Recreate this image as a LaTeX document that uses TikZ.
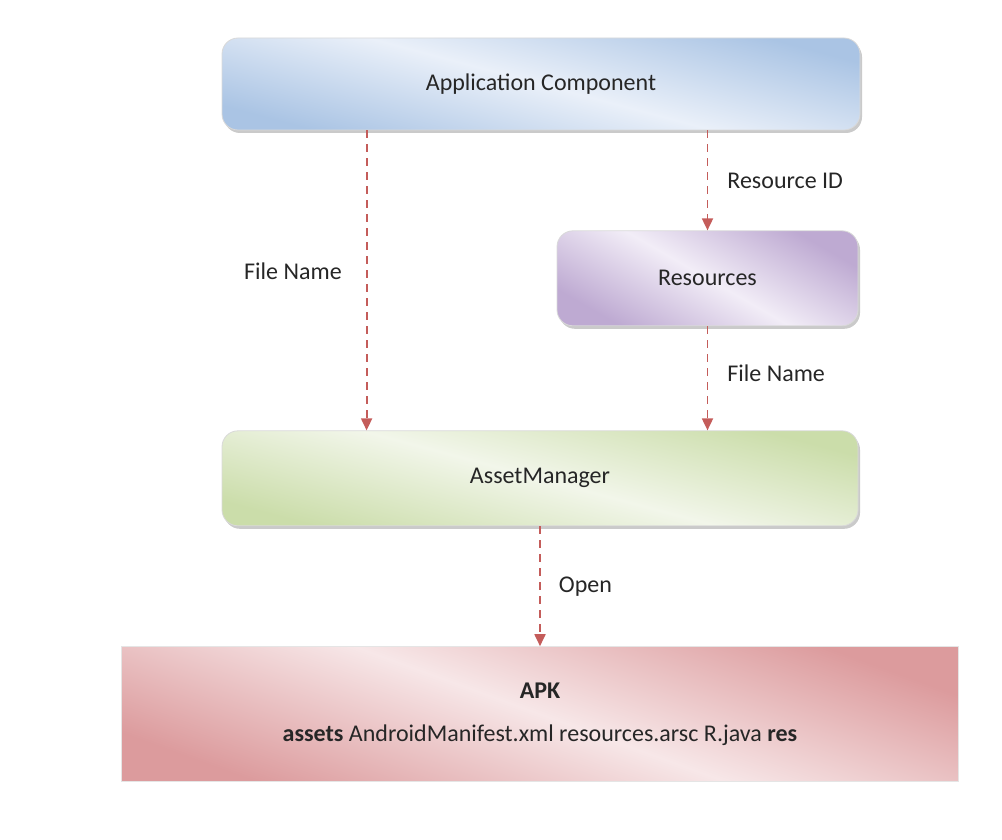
\documentclass[tikz,border=0pt]{standalone}
\usepackage{fontspec}
\setmainfont{Carlito}
\usetikzlibrary{positioning,shadows,arrows.meta}

\definecolor{arrowred}{RGB}{196,92,90}
\definecolor{appedge}{RGB}{170,196,228}
\definecolor{appmid}{RGB}{234,240,249}
\definecolor{resedge}{RGB}{190,170,210}
\definecolor{resmid}{RGB}{242,237,247}
\definecolor{assetedge}{RGB}{203,221,170}
\definecolor{assetmid}{RGB}{242,246,234}
\definecolor{apkedge}{RGB}{220,155,157}
\definecolor{apkmid}{RGB}{247,231,232}

\begin{document}
\begin{tikzpicture}[
	x=1pt, y=1pt,
	boxtext/.style={font=\fontsize{24}{29}\selectfont, text=black!85},
	roundbox/.style={boxtext, rounded corners=16pt, draw=black!15, line width=0.8pt,
		drop shadow={shadow xshift=2pt, shadow yshift=-3pt, fill=black!35, opacity=0.6}},
	appbox/.style={roundbox, minimum width=638pt, minimum height=92pt,
		left color=appedge, right color=appedge, middle color=appmid, shading angle=165},
	resbox/.style={roundbox, minimum width=301pt, minimum height=95pt,
		left color=resedge, right color=resedge, middle color=resmid, shading angle=150},
	assetbox/.style={roundbox, minimum width=636pt, minimum height=95pt,
		left color=assetedge, right color=assetedge, middle color=assetmid, shading angle=165},
	apkbox/.style={boxtext, draw=black!10, minimum width=837pt, minimum height=135pt, align=center,
		left color=apkedge, right color=apkedge, middle color=apkmid, shading angle=160},
	callarrow/.style={draw=arrowred, line width=1.8pt, dash pattern=on 8pt off 6pt,
		-{Triangle[length=12pt, width=11pt, fill=arrowred]}},
	arrowlabel/.style={boxtext, inner sep=0pt},
	]
	\useasboundingbox (0,0) rectangle (1002,-840);
	%Nodes
	\node[appbox]      (app)      at (541,-84)                           {Application Component};
	\node[resbox]      (res)      [below left=100pt and 2pt of app.south east]   {Resources};
	\node[assetbox]    (asset)    [below right=300pt and 0pt of app.south west]  {AssetManager};
	\node[apkbox]      (apk)      [below=120pt of asset]                  {\textbf{APK}\\[14pt]\textbf{assets} AndroidManifest.xml resources.arsc R.java \textbf{res}};

	%Lines
	\draw[callarrow] ([xshift=145pt]app.south west) -- ([xshift=145pt]asset.north west)
		node[arrowlabel, pos=0.47, left=24pt] (lfile) {File Name};
	\draw[callarrow] (app.south -| res.north) -- (res.north)
		node[arrowlabel, midway, right=19pt] (lid) {Resource ID};
	\draw[callarrow] (res.south) -- (res.south |- asset.north)
		node[arrowlabel, pos=0.45, right=19pt] (lfile2) {File Name};
	\draw[callarrow] (asset.south) -- (apk.north)
		node[arrowlabel, midway, right=18pt] (lopen) {Open};
\end{tikzpicture}
\end{document}
